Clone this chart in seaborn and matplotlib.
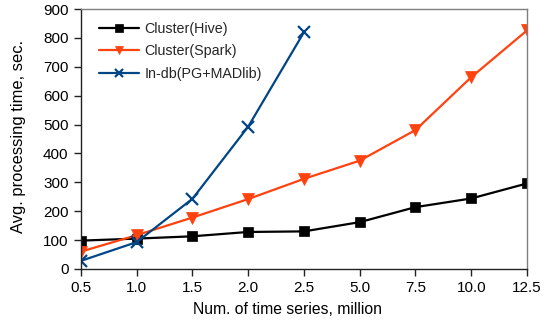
import matplotlib
matplotlib.use("Agg")
import matplotlib.pyplot as plt
import seaborn as sns
import pandas as pd
import numpy as np

x_labels = ["0.5", "1.0", "1.5", "2.0", "2.5", "5.0", "7.5", "10.0", "12.5"]
hive = [98, 105, 113, 128, 130, 162, 214, 244, 296]
spark = [60, 117, 178, 242, 312, 375, 481, 664, 826]
indb = [28, 93, 243, 493, 820]

series_names = ["Cluster(Hive)", "Cluster(Spark)", "In-db(PG+MADlib)"]
series_vals = [hive, spark, indb]
colors = ["#000000", "#ff420e", "#004586"]
markers = ["s", "v", "x"]
msizes = [7.5, 8, 9]

sns.set_theme(style="white")
plt.rcParams["font.family"] = ["Liberation Sans", "DejaVu Sans"]

rows = []
for name, vals in zip(series_names, series_vals):
    for i, v in enumerate(vals):
        rows.append({"pos": i, "value": v, "series": name})
df = pd.DataFrame(rows)

fig, ax = plt.subplots(figsize=(5.51, 3.24), dpi=100)
fig.subplots_adjust(left=0.147, right=0.9564, top=0.972, bottom=0.17)

for name, c, m, ms in zip(series_names, colors, markers, msizes):
    sub = df[df["series"] == name]
    sns.lineplot(data=sub, x="pos", y="value", ax=ax, color=c, marker=m,
                 markersize=ms, linewidth=1.6, markeredgecolor=c,
                 markeredgewidth=1.6 if m == "x" else 0.5, label=name)

ax.set_xlim(0, len(x_labels) - 1)
ax.set_ylim(0, 900)
ax.set_xticks(range(len(x_labels)))
ax.set_xticklabels(x_labels)
ax.set_yticks(np.arange(0, 901, 100))
ax.tick_params(axis="both", labelsize=11, length=5, width=1, color="#222222",
               labelcolor="#000000", direction="out", bottom=True, left=True, pad=4)
ax.set_xlabel("Num. of time series, million", fontsize=11.3, color="#000000")
ax.set_ylabel("Avg. processing time, sec.", fontsize=11.9, color="#000000")
ax.xaxis.set_label_coords(0.462, -0.128)
ax.yaxis.set_label_coords(-0.124, 0.51)

for s in ["left", "bottom"]:
    ax.spines[s].set_color("#222222")
    ax.spines[s].set_linewidth(1.0)
for s in ["right", "top"]:
    ax.spines[s].set_color("#7f7f7f")
    ax.spines[s].set_linewidth(1.0)

leg = ax.legend(loc="upper left", frameon=False, fontsize=10.3,
                handlelength=2.8, handletextpad=0.4, borderaxespad=0.0,
                labelspacing=0.58, markerscale=0.7, borderpad=0.0,
                bbox_to_anchor=(0.04, 0.95))

fig.savefig("out.png", dpi=100)
